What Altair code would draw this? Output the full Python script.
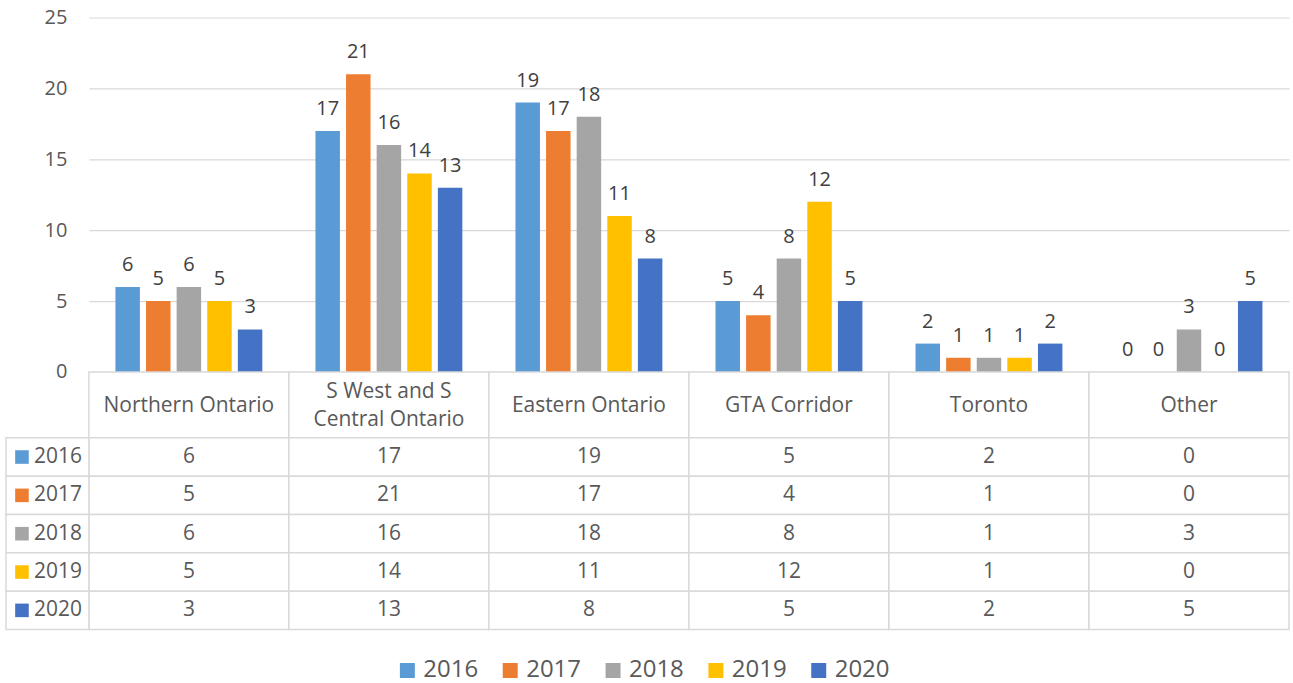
import altair as alt
import pandas as pd

categories = ["Northern Ontario", "S West and S Central Ontario", "Eastern Ontario",
              "GTA Corridor", "Toronto", "Other"]
header_labels = ["Northern Ontario", "S West and S\nCentral Ontario", "Eastern Ontario",
                 "GTA Corridor", "Toronto", "Other"]
years = ["2016", "2017", "2018", "2019", "2020"]
v2016 = [6, 17, 19, 5, 2, 0]
v2017 = [5, 21, 17, 4, 1, 0]
v2018 = [6, 16, 18, 8, 1, 3]
v2019 = [5, 14, 11, 12, 1, 0]
v2020 = [3, 13, 8, 5, 2, 5]
colors = ["#5B9BD5", "#ED7D31", "#A5A5A5", "#FFC000", "#4472C4"]
y_ticks = [0, 5, 10, 15, 20, 25]

series = {"2016": v2016, "2017": v2017, "2018": v2018, "2019": v2019, "2020": v2020}
rows = []
for y in years:
    for c, v in zip(categories, series[y]):
        rows.append({"region": c, "year": y, "value": v})
df = pd.DataFrame(rows)
hdr = pd.DataFrame({"region": categories, "label": header_labels,
                    "multi": ["\n" in s for s in header_labels]})
yr = pd.DataFrame({"year": years})

FONT = "Open Sans"
W = 1202
GRID = "#D9D9D9"
TXT = "#595959"

xb = alt.X("region:N", sort=categories,
           scale=alt.Scale(paddingInner=0.235, paddingOuter=0.1175), axis=None)
xo = alt.XOffset("year:N", sort=years, scale=alt.Scale(paddingInner=0.2, paddingOuter=0.1))
yq = alt.Y("value:Q", scale=alt.Scale(domain=[0, 25]),
           axis=alt.Axis(values=y_ticks, grid=True, domain=False, ticks=False,
                         labelPadding=22, labelFontSize=20, labelColor=TXT,
                         labelFont=FONT, gridColor=GRID, gridWidth=1.2, title=None))
col = alt.Color("year:N", sort=years, scale=alt.Scale(domain=years, range=colors), legend=None)

base = alt.Chart(df)
bars = base.mark_bar().encode(x=xb, xOffset=xo, y=yq, color=col)
labels = base.mark_text(baseline="alphabetic", dy=-16, fontSize=20, color="#404040",
                        font=FONT).encode(x=xb, xOffset=xo, y=yq, text="value:Q")
top = alt.layer(bars, labels).properties(width=W, height=355)

xc = alt.X("region:N", sort=categories, scale=alt.Scale(paddingInner=0, paddingOuter=0), axis=None)

hbase = alt.Chart(hdr)
hcells = hbase.mark_rect(fill="white", stroke=GRID, strokeWidth=1.5).encode(x=xc)
htext1 = hbase.transform_filter("!datum.multi").mark_text(
    fontSize=21, color=TXT, font=FONT, baseline="middle", dy=1).encode(x=xc, text="label:N")
htext2 = hbase.transform_filter("datum.multi").mark_text(
    fontSize=21, color=TXT, font=FONT, lineBreak="\n", lineHeight=28,
    baseline="middle", dy=-13).encode(x=xc, text="label:N")
header = alt.layer(hcells, htext1, htext2).properties(width=W, height=66)

yc = alt.Y("year:N", sort=years, scale=alt.Scale(paddingInner=0, paddingOuter=0), axis=None)
bcells = base.mark_rect(fill="white", stroke=GRID, strokeWidth=1.5).encode(x=xc, y=yc)
btext = base.mark_text(fontSize=21, color=TXT, font=FONT).encode(x=xc, y=yc, text="value:Q")
ybase = alt.Chart(yr)
lcells = ybase.mark_rect(fill="white", stroke=GRID, strokeWidth=1.5).encode(
    x=alt.value(-83), x2=alt.value(0), y=yc)
lsq = ybase.mark_square(size=185, opacity=1).encode(
    x=alt.value(-67), y=yc,
    color=alt.Color("year:N", sort=years, scale=alt.Scale(domain=years, range=colors),
                    legend=alt.Legend(orient="none", legendX=307, legendY=221,
                                      direction="horizontal", title=None,
                                      symbolType="square", symbolSize=225,
                                      symbolStrokeWidth=0, labelFontSize=24,
                                      labelFont=FONT, labelColor=TXT,
                                      labelOffset=4, columnPadding=20)))
ltext = ybase.mark_text(fontSize=21, color=TXT, font=FONT, align="left").encode(
    x=alt.value(-55), y=yc, text="year:N")
body = alt.layer(bcells, btext, lcells, lsq, ltext).properties(width=W, height=192)

chart = alt.vconcat(top, header, body, spacing=0, bounds="flush").resolve_scale(
    color="independent", x="independent"
).properties(
    padding={"left": 5, "top": 7, "right": 3, "bottom": 0}, background="white"
).configure_view(stroke=None)

chart.save("out.html", embed_options={"renderer": "svg", "actions": False})
